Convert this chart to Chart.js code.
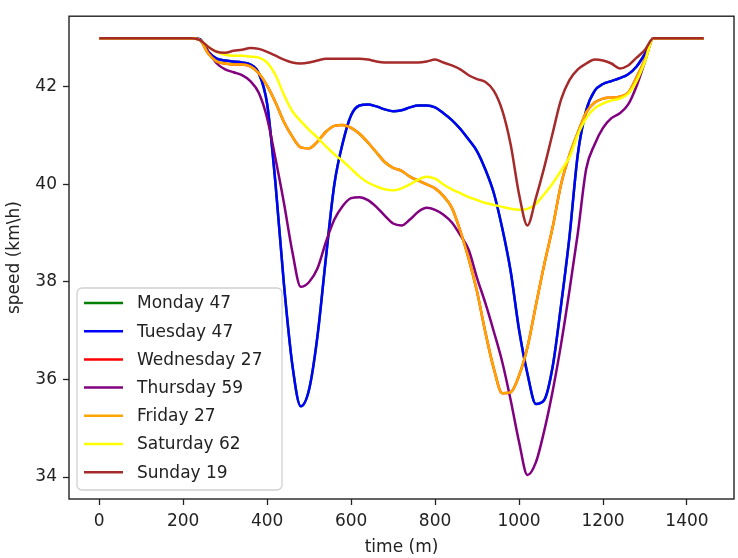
<!DOCTYPE html>
<html>
<head>
<meta charset="utf-8">
<script src="https://cdn.jsdelivr.net/npm/chart.js"></script>
<style>
  body { margin: 0; background: #fff; }
  #speed-chart { display: block; }
</style>
</head>
<body>
<canvas id="speed-chart" width="738" height="558"></canvas>
<script>
// time of day in minutes
const times = [0, 20, 40, 60, 80, 100, 120, 140, 160, 180, 200, 220,
    240, 260, 280, 300, 320, 340, 360, 380, 400, 420, 440, 460, 480, 500,
    520, 540, 560, 580, 600, 620, 640, 660, 680, 700, 720, 740, 760, 780,
    800, 820, 840, 860, 880, 900, 920, 940, 960, 980, 1000, 1020, 1040, 1060,
    1080, 1100, 1120, 1140, 1160, 1180, 1200, 1220, 1240, 1260, 1280, 1300,
    1320, 1340, 1360, 1380, 1400, 1420, 1440];

const dayLabels = ['Monday 47', 'Tuesday 47', 'Wednesday 27', 'Thursday 59', 'Friday 27', 'Saturday 62', 'Sunday 19'];
const dayColors = ['green', 'blue', 'red', 'purple', 'orange', 'yellow', 'brown'];

// speed (km/h), cluster 47
const speed47 = [43, 43, 43, 43, 43, 43, 43, 43, 43, 43, 43, 43,
    42.98, 42.72, 42.58, 42.54, 42.52, 42.50, 42.46, 42.28, 41.65, 40.0,
    37.95, 36.3, 35.45, 35.8, 36.9, 38.5, 40.0, 40.85,
    41.42, 41.62, 41.64, 41.6, 41.54, 41.5, 41.52, 41.58, 41.62, 41.62,
    41.58, 41.46, 41.32, 41.14, 40.92, 40.68, 40.3, 39.82, 39.1, 38.22,
    37.02, 36.12, 35.5, 35.58, 36.26, 37.52, 38.92, 40.62, 41.52, 41.92,
    42.06, 42.12, 42.18, 42.26, 42.42, 42.68,
    43, 43, 43, 43, 43, 43, 43];

// cluster 27
const speed27 = [43, 43, 43, 43, 43, 43, 43, 43, 43, 43, 43, 43,
    42.96, 42.68, 42.52, 42.48, 42.46, 42.46, 42.42, 42.28, 42.02, 41.68,
    41.28, 40.98, 40.76, 40.74, 40.88, 41.08, 41.2, 41.22,
    41.16, 41.04, 40.86, 40.66, 40.46, 40.34, 40.28, 40.16, 40.08, 40.0,
    39.92, 39.76, 39.52, 39.05, 38.48, 37.8, 36.96, 36.22, 35.72, 35.74,
    36.08, 36.66, 37.52, 38.36, 39.12, 40.0, 40.6, 41.06, 41.48, 41.68,
    41.76, 41.78, 41.8, 41.88, 42.2, 42.56,
    43, 43, 43, 43, 43, 43, 43];

// cluster 59
const speed59 = [43, 43, 43, 43, 43, 43, 43, 43, 43, 43, 43, 43,
    42.96, 42.72, 42.48, 42.36, 42.3, 42.24, 42.12, 41.88, 41.36, 40.52,
    39.62, 38.62, 37.9, 38.0, 38.28, 38.82, 39.28, 39.56,
    39.72, 39.74, 39.68, 39.54, 39.36, 39.2, 39.16, 39.28, 39.44, 39.52,
    39.48, 39.38, 39.22, 38.96, 38.66, 38.08, 37.56, 36.98, 36.36, 35.58,
    34.72, 34.04, 34.3, 34.95, 35.76, 36.72, 37.82, 39.0, 40.32, 40.82,
    41.16, 41.36, 41.46, 41.64, 42.02, 42.52,
    43, 43, 43, 43, 43, 43, 43];

// cluster 62
const speed62 = [43, 43, 43, 43, 43, 43, 43, 43, 43, 43, 43, 43,
    42.96, 42.82, 42.72, 42.66, 42.64, 42.64, 42.62, 42.6, 42.5, 42.24,
    41.84, 41.5, 41.3, 41.12, 40.96, 40.78, 40.62, 40.48,
    40.32, 40.16, 40.04, 39.96, 39.9, 39.88, 39.92, 40.0, 40.1, 40.16,
    40.12, 40.0, 39.9, 39.82, 39.74, 39.68, 39.62, 39.58, 39.54, 39.5,
    39.48, 39.5, 39.6, 39.8, 40.02, 40.28, 40.56, 41.02, 41.36, 41.56,
    41.66, 41.72, 41.76, 41.86, 42.12, 42.52,
    43, 43, 43, 43, 43, 43, 43];

// cluster 19
const speed19 = [43, 43, 43, 43, 43, 43, 43, 43, 43, 43, 43, 43,
    42.96, 42.82, 42.72, 42.70, 42.74, 42.76, 42.80, 42.78, 42.72, 42.64,
    42.56, 42.5, 42.48, 42.5, 42.54, 42.58, 42.58, 42.58,
    42.58, 42.58, 42.56, 42.52, 42.5, 42.5, 42.5, 42.5, 42.5, 42.52,
    42.56, 42.5, 42.44, 42.36, 42.24, 42.16, 42.1, 41.92, 41.52, 40.82,
    39.8, 39.16, 39.72, 40.35, 41.05, 41.74, 42.14, 42.36, 42.48, 42.56,
    42.54, 42.48, 42.38, 42.44, 42.6, 42.76,
    43, 43, 43, 43, 43, 43, 43];

const daySpeeds = [speed47, speed47, speed27, speed59, speed27, speed62, speed19];

const xTicks = [0, 200, 400, 600, 800, 1000, 1200, 1400];
const yTicks = [34, 36, 38, 40, 42];

const fontFamily = "'DejaVu Sans', sans-serif";

// moldura completa + legenda dentro do gráfico
const framePlugin = {
    id: 'frame',
    afterDraw(chart) {
        const ctx = chart.ctx;
        const a = chart.chartArea;
        ctx.save();
        ctx.strokeStyle = '#222';
        ctx.lineWidth = 1.4;
        ctx.strokeRect(a.left, a.top, a.right - a.left, a.bottom - a.top);

        // legenda
        const bx = 77, by = 288, bw = 205, bh = 202, r = 5;
        ctx.beginPath();
        ctx.roundRect(bx, by, bw, bh, r);
        ctx.fillStyle = 'rgba(255,255,255,0.8)';
        ctx.fill();
        ctx.strokeStyle = '#d0d0d0';
        ctx.lineWidth = 1.3;
        ctx.stroke();

        ctx.font = '17px ' + fontFamily;
        ctx.textBaseline = 'middle';
        ctx.textAlign = 'left';
        chart.data.datasets.forEach((ds, i) => {
            const y = 303 + i * 28.2;
            ctx.beginPath();
            ctx.moveTo(84, y);
            ctx.lineTo(123, y);
            ctx.strokeStyle = ds.borderColor;
            ctx.lineWidth = 2.5;
            ctx.stroke();
            ctx.fillStyle = '#222';
            ctx.fillText(ds.label, 137, y + 1);
        });
        ctx.restore();
    }
};

const datasets = dayLabels.map((label, i) => ({
    label: label,
    data: times.map((t, j) => ({ x: t, y: daySpeeds[i][j] })),
    borderColor: dayColors[i],
    borderWidth: 2.5,
    pointRadius: 0,
    fill: false,
    cubicInterpolationMode: 'monotone',
    borderJoinStyle: 'round',
    order: dayLabels.length - i
}));

const tickFont = { family: fontFamily, size: 17 };

new Chart(document.getElementById('speed-chart'), {
    type: 'line',
    data: { datasets: datasets },
    options: {
        responsive: false,
        animation: false,
        devicePixelRatio: 1,
        layout: { padding: { left: 0, right: 4, top: 4, bottom: 0 } },
        plugins: { legend: { display: false }, tooltip: { enabled: false } },
        scales: {
            x: {
                type: 'linear',
                min: -72,
                max: 1512,
                afterBuildTicks: s => { s.ticks = xTicks.map(v => ({ value: v })); },
                afterFit: s => { s.height = 59; },
                border: { display: false },
                grid: { drawOnChartArea: false, drawTicks: true, tickLength: 6, tickColor: '#222', tickWidth: 1.3 },
                ticks: { font: tickFont, color: '#222', padding: 6, maxRotation: 0, callback: v => String(v) },
                title: { display: true, text: 'time (m)', font: tickFont, color: '#222', padding: { top: 0, bottom: 0 } }
            },
            y: {
                min: 33.55,
                max: 43.45,
                afterBuildTicks: s => { s.ticks = yTicks.map(v => ({ value: v })); },
                afterFit: s => { s.width = 69; },
                border: { display: false },
                grid: { drawOnChartArea: false, drawTicks: true, tickLength: 6, tickColor: '#222', tickWidth: 1.3 },
                ticks: { font: tickFont, color: '#222', padding: 6, callback: v => String(v) },
                title: { display: true, text: 'speed (km\\h)', font: tickFont, color: '#222', padding: { top: 4, bottom: 0 } }
            }
        }
    },
    plugins: [framePlugin]
});
</script>
</body>
</html>
